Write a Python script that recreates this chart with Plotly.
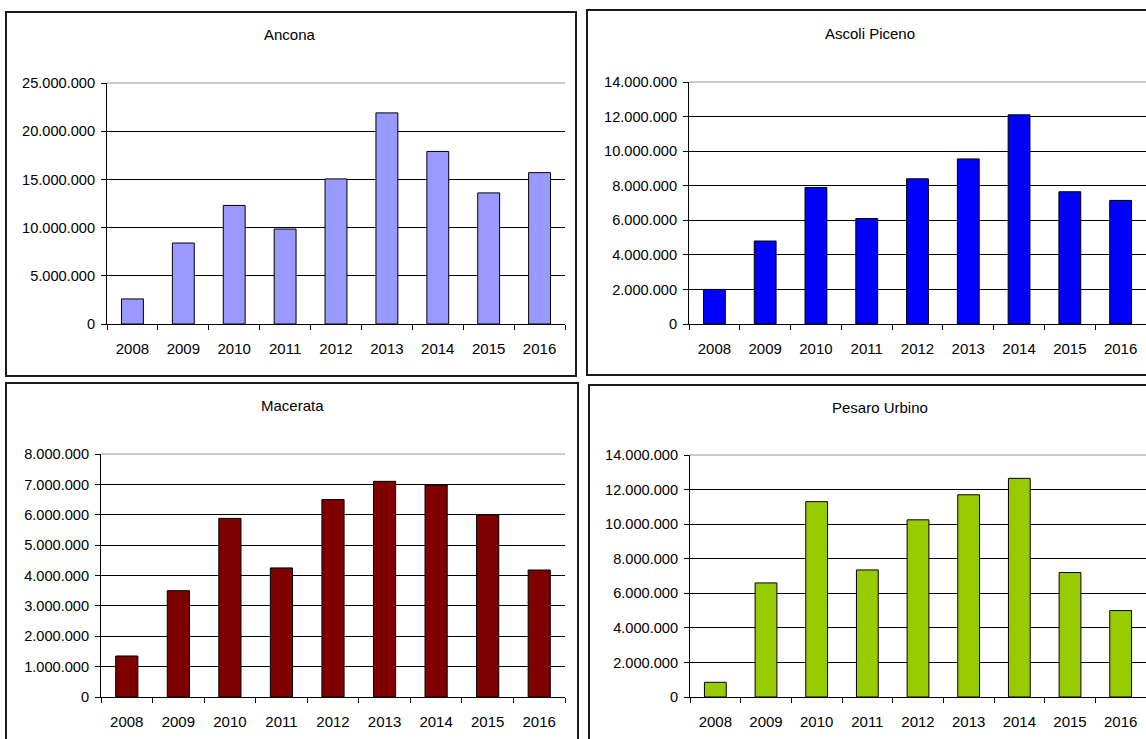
import plotly.graph_objects as go

W, H = 1146, 739

years = ["2008", "2009", "2010", "2011", "2012", "2013", "2014", "2015", "2016"]

titles = ["Ancona", "Ascoli Piceno", "Macerata", "Pesaro Urbino"]
ancona = [2600000, 8400000, 12300000, 9850000, 15050000, 21900000, 17900000, 13600000, 15700000]
ascoli = [2000000, 4800000, 7900000, 6100000, 8400000, 9550000, 12100000, 7650000, 7150000]
macerata = [1350000, 3500000, 5880000, 4250000, 6500000, 7100000, 6980000, 6000000, 4180000]
pesaro = [850000, 6600000, 11300000, 7350000, 10250000, 11700000, 12650000, 7200000, 5000000]

colors = ["#9999FF", "#0000FF", "#800000", "#99CC00"]
y_max = [25000000, 14000000, 8000000, 14000000]
y_step = [5000000, 2000000, 1000000, 2000000]
series = [ancona, ascoli, macerata, pesaro]

# layout geometry in pixels: (x_left, x_right, y_zero, y_top)
plot_px = [
    (107, 565, 324, 83),
    (689, 1146, 324, 82),
    (101, 565, 697, 454),
    (690, 1146, 697, 455),
]
box_px = [
    (6, 576, 12, 376),
    (587, 1150, 10, 375),
    (6, 578, 383, 745),
    (589, 1150, 385, 745),
]
title_px = [(290, 35), (870, 33), (292, 405), (880, 407)]

FONT = "Liberation Sans, Arial, sans-serif"

def px_x(v):
    return v / W

def px_y(v):
    return (H - v) / H

fig = go.Figure()
shapes = []
annotations = []

for i in range(4):
    n = "" if i == 0 else str(i + 1)
    fig.add_trace(go.Bar(
        x=years, y=series[i],
        xaxis="x" + n, yaxis="y" + n,
        marker=dict(color=colors[i], line=dict(color="#000000", width=1)),
        width=0.43,
        showlegend=False,
        hoverinfo="x+y",
    ))
    xl, xr, yz, yt = plot_px[i]
    fig.update_layout(**{
        "xaxis" + n: dict(
            domain=[px_x(xl), min(px_x(xr), 1.0)],
            anchor="y" + n,
            type="category",
            showline=True, linecolor="#000000", linewidth=1,
            ticks="outside", ticklen=5, tickcolor="#000000", tickwidth=1,
            tickson="boundaries",
            showgrid=False, zeroline=False,
            tickfont=dict(family=FONT, size=15, color="#000000"),
            ticklabelstandoff=11,
            automargin=False,
            fixedrange=True,
        ),
        "yaxis" + n: dict(
            domain=[px_y(yz), px_y(yt)],
            anchor="x" + n,
            range=[0, y_max[i]],
            dtick=y_step[i], tick0=0,
            tickformat=",d",
            showline=True, linecolor="#000000", linewidth=1,
            ticks="outside", ticklen=5, tickcolor="#000000", tickwidth=1,
            showgrid=True, gridcolor="#000000", gridwidth=1,
            zeroline=False,
            tickfont=dict(family=FONT, size=14.6, color="#000000"),
            ticklabelstandoff=3,
            automargin=False,
            fixedrange=True,
        ),
    })
    # light grey top border of plot area
    shapes.append(dict(
        type="line", xref="x" + n + " domain", yref="y" + n + " domain",
        x0=0, x1=1, y0=1, y1=1,
        line=dict(color="#BBBBBB", width=1.5), layer="above",
    ))
    bx0, bx1, by0, by1 = box_px[i]
    shapes.append(dict(
        type="rect", xref="paper", yref="paper",
        x0=px_x(bx0), x1=px_x(bx1), y0=px_y(by1), y1=px_y(by0),
        line=dict(color="#1a1a1a", width=2), fillcolor="rgba(0,0,0,0)",
        layer="above",
    ))
    tx, ty = title_px[i]
    annotations.append(dict(
        text=titles[i], xref="paper", yref="paper",
        x=px_x(tx), y=px_y(ty), xanchor="center", yanchor="middle",
        showarrow=False,
        font=dict(family=FONT, size=15, color="#000000"),
    ))

fig.update_layout(
    width=W, height=H,
    margin=dict(l=0, r=0, t=0, b=0, pad=0, autoexpand=False),
    paper_bgcolor="#FFFFFF", plot_bgcolor="#FFFFFF",
    separators=",.",
    shapes=shapes,
    annotations=annotations,
    showlegend=False,
)

fig.write_html(
    "out.html",
    config={"displayModeBar": False},
    post_script="document.body.style.margin='0';document.body.style.overflow='hidden';",
)
